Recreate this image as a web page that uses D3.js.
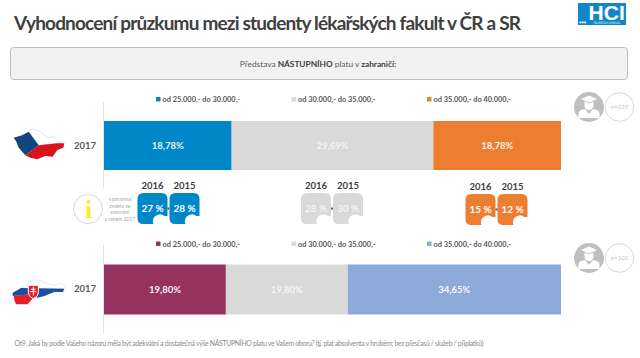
<!DOCTYPE html>
<html>
<head>
<meta charset="utf-8">
<title>Nástupní plat v zahraničí</title>
<script src="https://d3js.org/d3.v7.min.js"></script>
<style>
  html, body { margin: 0; padding: 0; background: #fff; }
  svg { display: block; font-family: Lato, "Open Sans", sans-serif; }
</style>
</head>
<body>
<div id="chart"></div>
<script>
var salaryBands = ["od 25.000,- do 30.000,-", "od 30.000,- do 35.000,-", "od 35.000,- do 40.000,-"];
var czValues = [18.78, 29.69, 18.78];
var skValues = [19.80, 19.80, 34.65];
var czColors = ["#0087c7", "#d9d9d9", "#ed7d31"];
var skColors = ["#963260", "#d9d9d9", "#8eaadb"];
var compareYears = ["2016", "2015"];
var compare2016 = [27, 28, 15];
var compare2015 = [28, 30, 12];
var compareColors = ["#0087c7", "#d9d9d9", "#ed7d31"];
var noteLines = ["významná", "změna ve", "srovnání", "s rokem 2017"];

var svg = d3.select("#chart").append("svg").attr("width", 640).attr("height", 358);
var fmt = d => d.toFixed(2).replace(".", ",") + "%";

// title + logo
svg.append("text").attr("x", 14).attr("y", 30)
  .attr("font-size", 19).attr("font-weight", 700).attr("fill", "#404040")
  .attr("textLength", 507).attr("lengthAdjust", "spacing")
  .text("Vyhodnocení průzkumu mezi studenty lékařských fakult v ČR a SR");

var logo = svg.append("g");
logo.append("rect").attr("x", 578).attr("y", 3).attr("width", 48).attr("height", 22).attr("fill", "#1187c9");
logo.append("text").attr("x", 606.7).attr("y", 19.6).attr("text-anchor", "middle")
  .attr("font-family", "'Liberation Sans', sans-serif")
  .attr("font-size", 21).attr("font-weight", 700).attr("fill", "#fff").text("HCI");
logo.selectAll("rect.dot").data(d3.range(3)).enter().append("rect").attr("class", "dot")
  .attr("x", d => 579.5 + d * 2.4).attr("y", 21.5).attr("width", 1.8).attr("height", 1.8).attr("fill", "#fff");
logo.append("text").attr("x", 607).attr("y", 24).attr("text-anchor", "middle")
  .attr("font-size", 3).attr("fill", "#d5ecf8").text("HealthCare Institute");

// question box
svg.append("rect").attr("x", 10.5).attr("y", 47.5).attr("width", 617).attr("height", 32).attr("rx", 3)
  .attr("fill", "#f2f2f2").attr("stroke", "#bfbfbf");
var q = svg.append("text").attr("x", 318).attr("y", 66.5).attr("text-anchor", "middle")
  .attr("font-size", 8.3).attr("fill", "#595959");
q.append("tspan").text("Představa ");
q.append("tspan").attr("font-weight", 700).attr("fill", "#404040").text("NÁSTUPNÍHO");
q.append("tspan").text(" platu v ");
q.append("tspan").attr("font-weight", 700).attr("fill", "#404040").text("zahraničí:");

var x = d3.scaleLinear().range([104, 561]);

function drawRow(values, colors, barTop, barH, legendY, axisTop, axisBottom, labelY) {
  x.domain([0, d3.sum(values)]);
  var starts = d3.cumsum([0].concat(values));
  var g = svg.append("g");

  g.append("line").attr("x1", 103.5).attr("x2", 103.5).attr("y1", axisTop).attr("y2", axisBottom)
    .attr("stroke", "#e3e3e3");

  g.selectAll("rect.seg").data(values).enter().append("rect").attr("class", "seg")
    .attr("x", (d, i) => x(starts[i]))
    .attr("y", barTop)
    .attr("width", d => x(d) - x(0))
    .attr("height", barH)
    .attr("fill", (d, i) => colors[i]);

  g.selectAll("text.val").data(values).enter().append("text").attr("class", "val")
    .attr("x", (d, i) => x(starts[i] + d / 2))
    .attr("y", barTop + barH / 2 + 3.5)
    .attr("text-anchor", "middle").attr("font-size", 9.5).attr("font-weight", 700)
    .attr("fill", "#fff").attr("fill-opacity", (d, i) => colors[i] == "#d9d9d9" ? 0.75 : 0.95)
    .text(fmt);

  g.append("text").attr("x", 85).attr("y", labelY).attr("text-anchor", "middle")
    .attr("font-size", 9.5).attr("font-weight", 700).attr("fill", "#595959").text("2017");

  var legendX = [156, 291.5, 427];
  var leg = g.selectAll("g.leg").data(salaryBands).enter().append("g").attr("class", "leg")
    .attr("transform", (d, i) => "translate(" + legendX[i] + "," + legendY + ")");
  leg.append("rect").attr("y", -2.5).attr("width", 4.5).attr("height", 4.5).attr("fill", (d, i) => colors[i]);
  leg.append("text").attr("x", 6.5).attr("y", 2.7).attr("font-size", 7.4).attr("font-weight", 700)
    .attr("fill", "#595959").text(d => d);
}

drawRow(czValues, czColors, 121, 49, 99.5, 102, 188, 149);
drawRow(skValues, skColors, 264.5, 50, 244, 245, 334, 292);

// comparison bubbles
var groupLeft = [137.5, 301, 465.5];
var groupTop = [193, 193, 194];
function bubblePath(w, h) {
  // rounded square with a round bite out of the lower right corner
  return "M6,0H" + (w - 6) + "Q" + w + ",0 " + w + ",6V" + (h - 8) + "H" + (w - 3)
    + "A7,7 0 0 0 " + (w - 14) + "," + h + "H6Q0," + h + " 0," + (h - 6) + "V6Q0,0 6,0Z";
}
compareColors.forEach(function (c, i) {
  var g = svg.append("g").attr("transform", "translate(" + groupLeft[i] + "," + groupTop[i] + ")");
  [compare2016[i], compare2015[i]].forEach(function (v, j) {
    var b = g.append("g").attr("transform", "translate(" + (j * 32) + ",0)");
    b.append("path").attr("d", bubblePath(30, 31)).attr("fill", c);
    b.append("text").attr("x", 15).attr("y", 18.5).attr("text-anchor", "middle")
      .attr("font-size", 10).attr("font-weight", 700)
      .attr("fill", "#fff").attr("fill-opacity", c == "#d9d9d9" ? 0.75 : 1).text(v + " %");
    g.append("text").attr("x", 15 + j * 32).attr("y", -4.5).attr("text-anchor", "middle")
      .attr("font-size", 9.5).attr("font-weight", 700).attr("fill", "#404040").text(compareYears[j]);
  });
  g.append("rect").attr("x", 30).attr("y", 14.5).attr("width", 2).attr("height", 2).attr("fill", "#595959");
});

// info icon + note
svg.append("circle").attr("cx", 88).attr("cy", 209).attr("r", 14.5).attr("fill", "#fff")
  .attr("stroke", "#d9d9d9").attr("stroke-width", 1);
svg.append("text").attr("x", 88.5).attr("y", 218).attr("text-anchor", "middle")
  .attr("font-family", "'Liberation Serif', serif").attr("font-size", 26).attr("font-weight", 700)
  .attr("fill", "#f5ee2e").text("i");
svg.selectAll("text.note").data(noteLines).enter().append("text").attr("class", "note")
  .attr("x", 120).attr("y", (d, i) => 201 + i * 6.5).attr("text-anchor", "middle")
  .attr("font-size", 5.1).attr("fill", "#a6a6a6").text(d => d);

// respondent badges
function badge(cy, label) {
  var g = svg.append("g").attr("transform", "translate(589," + cy + ")");
  g.append("circle").attr("r", 15).attr("fill", "#bfbfbf");
  g.append("path").attr("d", "M-8,-8L0,-11.5L8,-8L0,-4.5Z").attr("fill", "#fff");
  g.append("path").attr("d", "M-4.5,-5.5V-1.5A4.5,4.5 0 0 0 4.5,-1.5V-5.5L0,-3.5Z").attr("fill", "#fff");
  g.append("path").attr("d", "M-10.5,11V6Q-10.5,3 -4,2L0,7L4,2Q10.5,3 10.5,6V11Z").attr("fill", "#fff");
  svg.append("circle").attr("cx", 619.5).attr("cy", cy).attr("r", 14.3).attr("fill", "#fff")
    .attr("stroke", "#d9d9d9").attr("stroke-width", 1);
  svg.append("text").attr("x", 619.5).attr("y", cy + 2).attr("text-anchor", "middle")
    .attr("font-size", 6).attr("fill", "#bfbfbf").text(label);
}
badge(107, "n=229");
badge(258, "n=101");

// country shapes, traced in 3x crop units
var cz = svg.append("g").attr("transform", "translate(12,126) scale(0.3333)");
cz.append("path").attr("fill", "#fff").attr("stroke", "#d8d8d8").attr("stroke-width", 2)
  .attr("d", "M50,17L60,8L80,15L110,35L125,30L135,48L150,50L135,54L80,58Z");
cz.append("path").attr("fill", "#d7141a")
  .attr("d", "M80,58L135,52L157,52L154,65L136,72L122,92L100,90L75,100L55,95L40,88Z");
cz.append("path").attr("fill", "#11457e")
  .attr("d", "M5,35L30,28L50,17L80,58L40,88L20,65L12,45Z");

var sk = svg.append("g").attr("transform", "translate(11,276) scale(0.3333)");
sk.append("path").attr("fill", "#fff").attr("stroke", "#e2e2e2").attr("stroke-width", 2)
  .attr("d", "M30,36L50,25L65,12L85,12L105,22L130,28L150,22L160,28L160,38Z");
sk.append("path").attr("fill", "#1a4fa3")
  .attr("d", "M5,50L30,36L160,38L156,48L130,48L100,60L80,65L60,55L5,60Z");
sk.append("path").attr("fill", "#e3202a")
  .attr("d", "M8,59L60,55L64,68L50,85L15,85L10,72Z");
sk.append("path").attr("fill", "#e3202a").attr("stroke", "#fff").attr("stroke-width", 3)
  .attr("d", "M52,28H82V50Q82,62 67,68Q52,62 52,50Z");
sk.append("path").attr("stroke", "#fff").attr("stroke-width", 3).attr("fill", "none")
  .attr("d", "M67,32V58M60,40H74M58,47H76");

// footer
svg.append("text").attr("x", 14.5).attr("y", 346.3).attr("font-size", 6.9).attr("fill", "#8c8c8c")
  .attr("textLength", 469).attr("lengthAdjust", "spacing")
  .text("Ot9. Jaká by podle Vašeho názoru měla být adekvátní a dostatečná výše NÁSTUPNÍHO platu ve Vašem oboru? (tj. plat absolventa v hrubém; bez přesčasů / služeb / příplatků)");
</script>
</body>
</html>
